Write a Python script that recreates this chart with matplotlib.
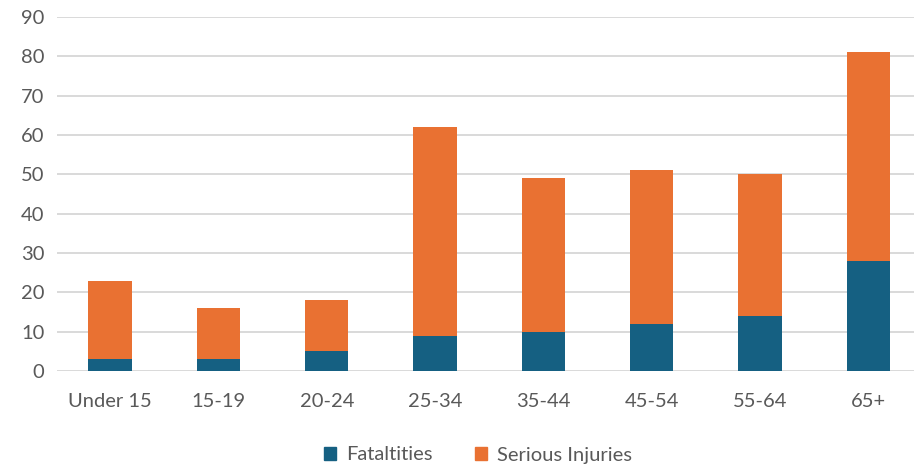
import matplotlib
matplotlib.use("Agg")
import matplotlib.pyplot as plt
from matplotlib.patches import Patch

categories = ["Under 15", "15-19", "20-24", "25-34", "35-44", "45-54", "55-64", "65+"]
fatalities = [3, 3, 5, 9, 10, 12, 14, 28]
serious = [20, 13, 13, 53, 39, 39, 36, 53]

plt.rcParams['font.family'] = ['Lato', 'DejaVu Sans']
blue = "#156082"
orange = "#E97132"
txt = "#595959"

fig = plt.figure(figsize=(9.14, 4.68), dpi=100)
ax = fig.add_axes([57/914, 1-371/468, 1-57/914, (371-17)/468])
x = list(range(len(categories)))
w = 0.4
ax.bar(x, fatalities, width=w, color=blue, zorder=3)
ax.bar(x, serious, width=w, bottom=fatalities, color=orange, zorder=3)
ax.set_ylim(0, 90)
ax.set_xlim(-0.49, 7.42)
ax.set_yticks(range(0, 91, 10))
ax.grid(axis='y', color="#D9D9D9", linewidth=1.4, zorder=0)
for s in ax.spines.values():
    s.set_visible(False)
ax.set_xticks(x)
ax.set_xticklabels(categories)
ax.tick_params(axis='both', length=0, labelsize=14.5, colors=txt)
ax.tick_params(axis='x', pad=16)
ax.tick_params(axis='y', pad=9)
handles = [Patch(color=blue, label="Fataltities"), Patch(color=orange, label="Serious Injuries")]
fig.legend(handles=handles, loc='center', bbox_to_anchor=(478/914, 1-455/468), ncol=2,
           frameon=False, fontsize=14.5, labelcolor=txt, handlelength=0.6, handleheight=0.6,
           handletextpad=0.5, columnspacing=2.1)
fig.savefig("out.png", dpi=100)
